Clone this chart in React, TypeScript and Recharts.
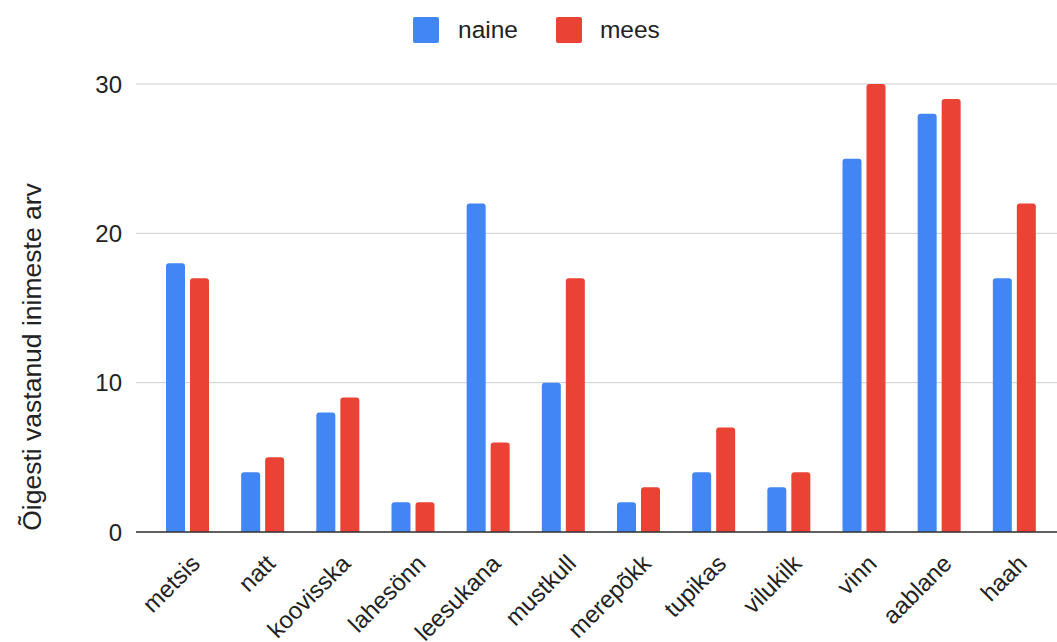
import { BarChart, Bar, XAxis, YAxis, CartesianGrid } from "recharts"

const categories = ["metsis", "natt", "koovisska", "lahesönn", "leesukana", "mustkull", "merepõkk", "tupikas", "vilukilk", "vinn", "aablane", "haah"]
const naine = [18, 4, 8, 2, 22, 10, 2, 4, 3, 25, 28, 17]
const mees = [17, 5, 9, 2, 6, 17, 3, 7, 4, 30, 29, 22]
const yTicks = [0, 10, 20, 30]

const data = categories.map((name, i) => ({ name, naine: naine[i], mees: mees[i] }))

const FONT = "'Liberation Sans', Arial, sans-serif"

function AngledTick({ x, y, payload }: any) {
  return (
    <g transform={`translate(${x + 14},${y + 25})`}>
      <text textAnchor="end" transform="rotate(-45)" fontSize={24} fill="#222" fontFamily={FONT}>
        {payload.value}
      </text>
    </g>
  )
}

function YLabel() {
  return (
    <text x={32} y={357} transform="rotate(-90 32 357)" textAnchor="middle" dominantBaseline="central" fontSize={26.5} fill="#222" fontFamily={FONT}>
      Õigesti vastanud inimeste arv
    </text>
  )
}

export default function App() {
  return (
    <div style={{ position: "absolute", left: 0, top: 0, width: 1057, height: 642, background: "#fff", fontFamily: FONT }}>
      <div style={{ position: "absolute", top: 17, left: 413, height: 26, display: "flex", alignItems: "center", fontSize: 24.5, color: "#222" }}>
        <span style={{ width: 26, height: 26, background: "#4285f4", borderRadius: 2, display: "inline-block" }} />
        <span style={{ marginLeft: 19 }}>naine</span>
        <span style={{ width: 26, height: 26, background: "#ea4335", borderRadius: 2, display: "inline-block", marginLeft: 38 }} />
        <span style={{ marginLeft: 18 }}>mees</span>
      </div>
      <BarChart width={1057} height={642} data={data} margin={{ top: 84, right: 0, bottom: 0, left: 0 }} barGap={5} barSize={19}>
        <CartesianGrid vertical={false} stroke="#cccccc" />
        <XAxis dataKey="name" interval={0} height={110} tickLine={false} axisLine={{ stroke: "#333", strokeWidth: 1.5 }} tick={<AngledTick />} padding={{ left: 14, right: 5 }} />
        <YAxis domain={[0, 30]} ticks={yTicks} width={136} axisLine={false} tickLine={false} tickMargin={8} tick={{ fontSize: 24, fill: "#222", fontFamily: FONT }} label={<YLabel />} />
        <Bar dataKey="naine" fill="#4285f4" radius={[3, 3, 0, 0]} isAnimationActive={false} />
        <Bar dataKey="mees" fill="#ea4335" radius={[3, 3, 0, 0]} isAnimationActive={false} />
      </BarChart>
    </div>
  )
}
